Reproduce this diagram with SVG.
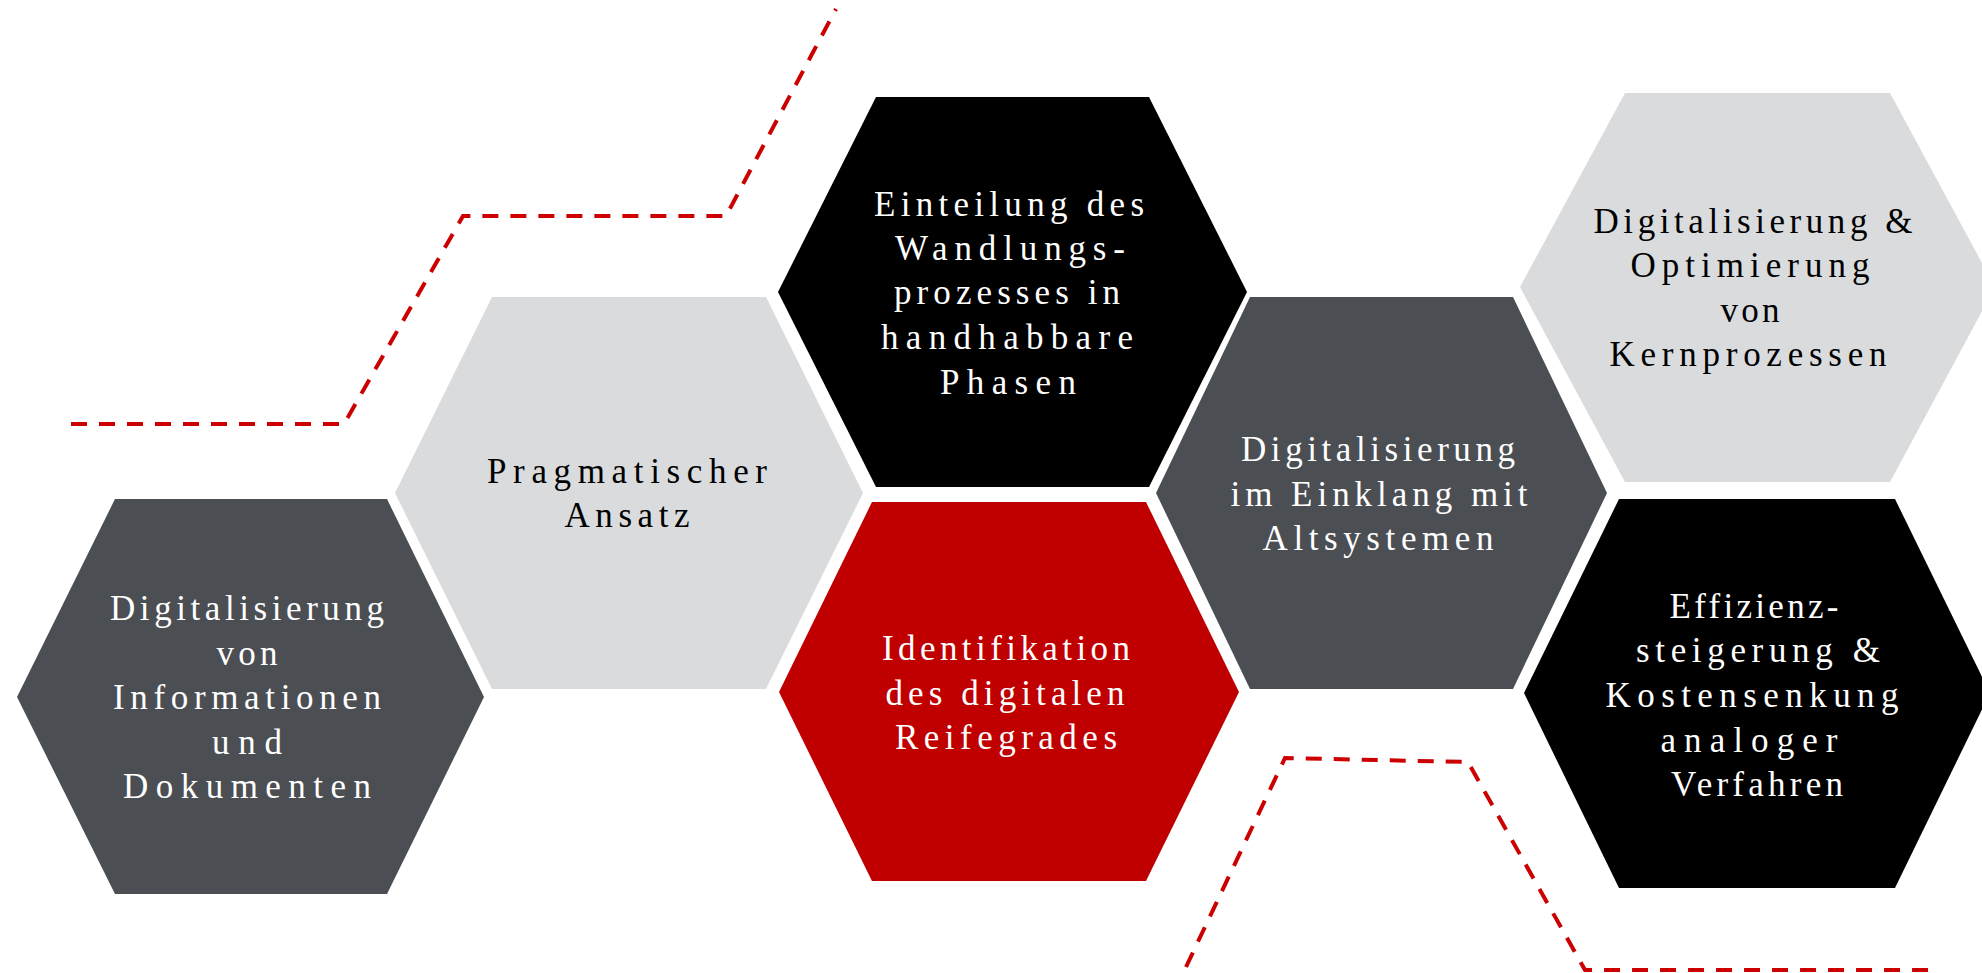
<svg xmlns="http://www.w3.org/2000/svg" width="1982" height="973" viewBox="0 0 1982 973">
<style>
.lbl{font-family:"Liberation Serif","Times New Roman",serif;font-size:35px;text-anchor:middle}
.w{fill:#ffffff}
.k{fill:#000000}
.dash{fill:none;stroke:#CC0000;stroke-width:4;stroke-dasharray:16 12}
</style>
<rect width="1982" height="973" fill="#ffffff"/>
<g id="connectors">
<polyline class="dash" points="71,424 344,424 463,216 726,216 836,9"/>
<polyline class="dash" points="1186,967 1285,758 1468,762 1585,970 1938,970"/>
</g>
<g id="hex1">
<polygon points="17,697 115,499 387,499 484,697 387,894 115,894" fill="#4B4E53"/>
<text class="lbl w" x="247" y="620" textLength="274" lengthAdjust="spacing">Digitalisierung</text>
<text class="lbl w" x="247" y="664.5" textLength="61" lengthAdjust="spacing">von</text>
<text class="lbl w" x="247" y="709" textLength="268" lengthAdjust="spacing">Informationen</text>
<text class="lbl w" x="247" y="753.5" textLength="70" lengthAdjust="spacing">und</text>
<text class="lbl w" x="247" y="798" textLength="248" lengthAdjust="spacing">Dokumenten</text>
</g>
<g id="hex2">
<polygon points="395,493 492,297 766,297 863,493 766,689 492,689" fill="#DADBDD"/>
<text class="lbl k" x="627" y="483" textLength="280" lengthAdjust="spacing">Pragmatischer</text>
<text class="lbl k" x="627" y="527" textLength="125" lengthAdjust="spacing">Ansatz</text>
</g>
<g id="hex3">
<polygon points="778,292 876,97 1149,97 1247,292 1149,487 876,487" fill="#000000"/>
<text class="lbl w" x="1009" y="216" textLength="270" lengthAdjust="spacing">Einteilung des</text>
<text class="lbl w" x="1010" y="260" textLength="230" lengthAdjust="spacing">Wandlungs-</text>
<text class="lbl w" x="1007" y="304" textLength="226" lengthAdjust="spacing">prozesses in</text>
<text class="lbl w" x="1007" y="349" textLength="252" lengthAdjust="spacing">handhabbare</text>
<text class="lbl w" x="1008" y="394" textLength="136" lengthAdjust="spacing">Phasen</text>
</g>
<g id="hex4">
<polygon points="779,692 872,502 1146,502 1239,692 1146,881 872,881" fill="#C00000"/>
<text class="lbl w" x="1006" y="660" textLength="248" lengthAdjust="spacing">Identifikation</text>
<text class="lbl w" x="1005" y="705" textLength="239" lengthAdjust="spacing">des digitalen</text>
<text class="lbl w" x="1006" y="749" textLength="222" lengthAdjust="spacing">Reifegrades</text>
</g>
<g id="hex5">
<polygon points="1156,493 1250,297 1513,297 1607,493 1513,689 1250,689" fill="#4B4E53"/>
<text class="lbl w" x="1378" y="461" textLength="274" lengthAdjust="spacing">Digitalisierung</text>
<text class="lbl w" x="1379" y="506" textLength="297" lengthAdjust="spacing">im Einklang mit</text>
<text class="lbl w" x="1378" y="550" textLength="231" lengthAdjust="spacing">Altsystemen</text>
</g>
<g id="hex6">
<polygon points="1520,287 1625,93 1890,93 1995,287 1890,482 1625,482" fill="#DADBDD"/>
<text class="lbl k" x="1753" y="233" textLength="319" lengthAdjust="spacing">Digitalisierung &amp;</text>
<text class="lbl k" x="1750" y="277" textLength="239" lengthAdjust="spacing">Optimierung</text>
<text class="lbl k" x="1750" y="322" textLength="59" lengthAdjust="spacing">von</text>
<text class="lbl k" x="1748" y="366" textLength="277" lengthAdjust="spacing">Kernprozessen</text>
</g>
<g id="hex7">
<polygon points="1524,693 1619,499 1895,499 1990,693 1895,888 1619,888" fill="#000000"/>
<text class="lbl w" x="1754" y="618" textLength="169" lengthAdjust="spacing">Effizienz-</text>
<text class="lbl w" x="1758" y="662" textLength="244" lengthAdjust="spacing">steigerung &amp;</text>
<text class="lbl w" x="1752" y="707" textLength="293" lengthAdjust="spacing">Kostensenkung</text>
<text class="lbl w" x="1749" y="752" textLength="177" lengthAdjust="spacing">analoger</text>
<text class="lbl w" x="1757" y="796" textLength="172" lengthAdjust="spacing">Verfahren</text>
</g>
</svg>
